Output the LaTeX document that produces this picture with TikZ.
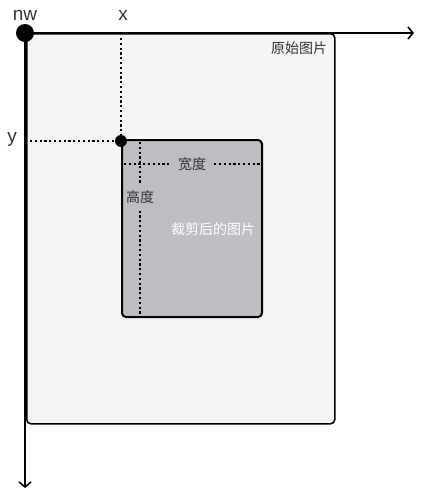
\documentclass[tikz,border=0pt]{standalone}
\usepackage{fontspec}
\setmainfont{Liberation Sans}
\newfontfamily\cjk{Noto Sans CJK SC}
\usetikzlibrary{arrows.meta}
\definecolor{outerfill}{HTML}{F5F5F5}
\definecolor{innerfill}{HTML}{BCBEC4}
\definecolor{txt}{HTML}{333333}
\begin{document}
\begin{tikzpicture}[x=1pt,y=-1pt,
  axis/.style={line width=2pt,-{Straight Barb[length=5pt,width=12pt,line width=1.6pt]}},
  guide/.style={line width=2.2pt,dash pattern=on 2.2pt off 2.6pt},
  imgbox/.style={draw,rounded corners=4pt,anchor=north west,inner sep=0pt},
  lbl/.style={font=\fontsize{19}{19}\selectfont,text=txt,inner sep=0pt},
  cjklbl/.style={font=\cjk\fontsize{14}{15}\selectfont,text=txt,inner sep=1pt},
  dot/.style={circle,fill=black,inner sep=0pt}]
\useasboundingbox (0,0) rectangle (422,504);
\node[imgbox,fill=outerfill,line width=1.5pt,minimum width=308pt,minimum height=390pt] (orig) at (26,33) {};
\node[imgbox,fill=innerfill,line width=2pt,minimum width=140pt,minimum height=177pt] (crop) at (121,139) {};
\coordinate (o) at (25,33);
\coordinate (xend) at (414,33);
\coordinate (yend) at (25,488);
\draw[axis] (o) -- (xend);
\draw[axis] (o) -- (yend);
% guides
\coordinate (xg0) at (121,38);
\coordinate (xg1) at (121,139);
\coordinate (yg0) at (30,141);
\coordinate (yg1) at (121,141);
\draw[guide] (xg0) -- (xg1);
\draw[guide] (yg0) -- (yg1);
% labels
\node[lbl] (nwl) at (25,15) {nw};
\node[lbl] (xl) at (123,15) {x};
\node[lbl] (yl) at (12,139) {y};
\node[cjklbl] (origl) at (299,48) {原始图片};
\node[cjklbl,inner xsep=8pt] (wl) at (192,164) {宽度};
\node[cjklbl,inner ysep=7pt] (hl) at (140,197) {高度};
\node[cjklbl,text=white] (cropl) at (213,229) {裁剪后的图片};
% inner guides
\coordinate (w0) at (124,164);
\coordinate (w1) at (260,164);
\coordinate (h0) at (140,142);
\coordinate (h1) at (140,315);
\draw[guide] (w0) -- (wl.west);
\draw[guide] (wl.east) -- (w1);
\draw[guide] (h0) -- (hl.north);
\draw[guide] (hl.south) -- (h1);
% dots
\node[dot,minimum size=18pt] (nw) at (o) {};
\node[dot,minimum size=12pt] (corner) at (121,141) {};
\end{tikzpicture}
\end{document}
